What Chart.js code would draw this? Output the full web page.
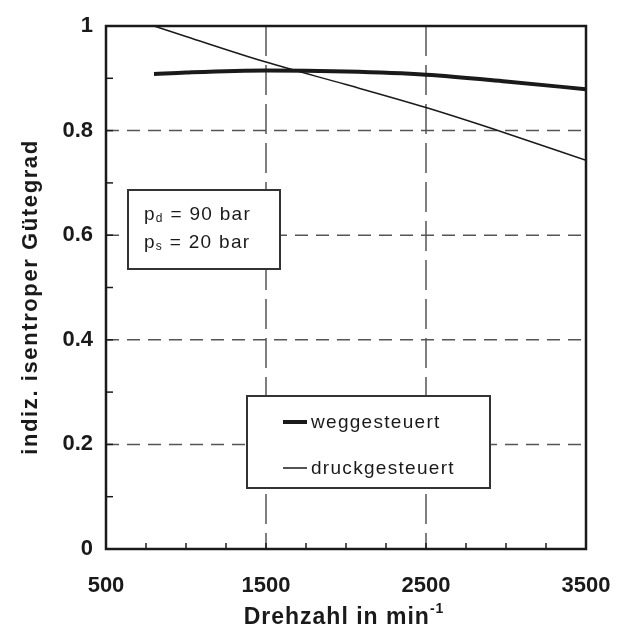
<!DOCTYPE html>
<html>
<head>
<meta charset="utf-8">
<script src="https://cdn.jsdelivr.net/npm/chart.js@4.4.0/dist/chart.umd.min.js"></script>
<style>
  html, body { margin: 0; padding: 0; background: #fff; }
  #wrap { width: 625px; height: 633px; }
</style>
</head>
<body>
<div id="wrap"><canvas id="chart"></canvas></div>
<script>
/* ---- data ---- */
const drehzahl = [800, 1000, 1500, 2000, 2500, 3000, 3500];
const weggesteuert = [0.908, 0.911, 0.915, 0.913, 0.907, 0.894, 0.879];
const druckgesteuert = [1.0, 0.98, 0.931, 0.888, 0.844, 0.795, 0.743];
const seriesNames = ["weggesteuert", "druckgesteuert"];
const xGridValues = [1500, 2500];
const yGridValues = [0.2, 0.4, 0.6, 0.8];

const FONT = "'Liberation Sans', Arial, sans-serif";
const INK = "#1a1a1a";

const toPoints = (ys) => drehzahl.map((x, i) => ({ x: x, y: ys[i] }));

/* ---- text helper with sub/superscript pieces ---- */
function drawPieces(ctx, pieces, x, y) {
  let cx = x;
  for (const p of pieces) {
    ctx.font = p.font;
    ctx.fillText(p.t, cx, y + (p.dy || 0));
    cx += ctx.measureText(p.t).width;
  }
  return cx;
}
function piecesWidth(ctx, pieces) {
  let w = 0;
  for (const p of pieces) { ctx.font = p.font; w += ctx.measureText(p.t).width; }
  return w;
}

/* ---- grid, ticks, frame, boxes, titles ---- */
const decor = {
  id: "decor",
  beforeDatasetsDraw(chart) {
    const { ctx, chartArea: a, scales: { x, y } } = chart;
    ctx.save();
    ctx.strokeStyle = "#555";
    ctx.lineWidth = 1.5;
    ctx.setLineDash([13, 8]);
    for (const v of yGridValues) {
      const py = y.getPixelForValue(v);
      ctx.beginPath(); ctx.moveTo(a.left, py); ctx.lineTo(a.right, py); ctx.stroke();
    }
    ctx.setLineDash([30, 9]);
    for (const v of xGridValues) {
      const px = x.getPixelForValue(v);
      ctx.beginPath(); ctx.moveTo(px, a.top); ctx.lineTo(px, a.bottom); ctx.stroke();
    }
    ctx.setLineDash([]);
    // minor inner ticks
    ctx.strokeStyle = INK;
    ctx.lineWidth = 1.5;
    for (let v = 750; v < 3500; v += 250) {
      const px = x.getPixelForValue(v);
      ctx.beginPath(); ctx.moveTo(px, a.bottom); ctx.lineTo(px, a.bottom - 6); ctx.stroke();
    }
    for (let k = 1; k < 10; k++) {
      const py = y.getPixelForValue(k / 10);
      ctx.beginPath(); ctx.moveTo(a.left, py); ctx.lineTo(a.left + 7, py); ctx.stroke();
    }
    ctx.restore();
  },
  afterDatasetsDraw(chart) {
    const { ctx, chartArea: a } = chart;
    ctx.save();
    // plot frame
    ctx.strokeStyle = INK;
    ctx.lineWidth = 2.5;
    ctx.strokeRect(a.left, a.top, a.right - a.left, a.bottom - a.top);

    ctx.letterSpacing = "1.3px";
    ctx.fillStyle = INK;
    ctx.textBaseline = "middle";

    // pressure box
    const bx = a.left + 22, by = 190, bw = 152, bh = 79;
    ctx.fillStyle = "#fff";
    ctx.fillRect(bx, by, bw, bh);
    ctx.strokeStyle = "#333";
    ctx.lineWidth = 2;
    ctx.strokeRect(bx, by, bw, bh);
    ctx.fillStyle = INK;
    const f = "19px " + FONT, fs = "12px " + FONT;
    drawPieces(ctx, [{ t: "p", font: f }, { t: "d", font: fs, dy: 4 }, { t: " = 90 bar", font: f }], bx + 16, by + 25);
    drawPieces(ctx, [{ t: "p", font: f }, { t: "s", font: fs, dy: 4 }, { t: " = 20 bar", font: f }], bx + 16, by + 53);

    // legend box
    const lx = 247, ly = 396, lw = 243, lh = 92;
    ctx.fillStyle = "#fff";
    ctx.fillRect(lx, ly, lw, lh);
    ctx.strokeStyle = "#333";
    ctx.lineWidth = 2;
    ctx.strokeRect(lx, ly, lw, lh);
    const rows = [{ y: ly + 26, w: 4 }, { y: ly + 72, w: 1.5 }];
    rows.forEach((r, i) => {
      ctx.strokeStyle = INK;
      ctx.lineWidth = r.w;
      ctx.beginPath(); ctx.moveTo(lx + 36, r.y); ctx.lineTo(lx + 60, r.y); ctx.stroke();
      ctx.fillStyle = INK;
      ctx.font = "19px " + FONT;
      ctx.fillText(seriesNames[i], lx + 64, r.y + 1);
    });

    // y title
    ctx.save();
    ctx.translate(31, 297);
    ctx.rotate(-Math.PI / 2);
    ctx.letterSpacing = "1.6px";
    ctx.font = "bold 22px " + FONT;
    ctx.textAlign = "center";
    ctx.fillText("indiz. isentroper Gütegrad", 0, 0);
    ctx.restore();

    // x title
    ctx.letterSpacing = "1px";
    const xt = [
      { t: "Drehzahl in min", font: "bold 23px " + FONT },
      { t: "-1", font: "bold 14px " + FONT, dy: -9 }
    ];
    const tw = piecesWidth(ctx, xt);
    drawPieces(ctx, xt, 344 - tw / 2, 618);
    ctx.restore();
  }
};

new Chart(document.getElementById("chart"), {
  type: "line",
  data: {
    datasets: [
      {
        label: seriesNames[0],
        data: toPoints(weggesteuert),
        borderColor: INK,
        borderWidth: 4,
        pointRadius: 0,
        cubicInterpolationMode: "monotone"
      },
      {
        label: seriesNames[1],
        data: toPoints(druckgesteuert),
        borderColor: INK,
        borderWidth: 1.5,
        pointRadius: 0,
        cubicInterpolationMode: "monotone"
      }
    ]
  },
  plugins: [decor],
  options: {
    responsive: true,
    maintainAspectRatio: false,
    animation: false,
    layout: { padding: { top: 26, right: 39, left: 0, bottom: 0 } },
    plugins: {
      legend: { display: false },
      tooltip: { enabled: false }
    },
    scales: {
      x: {
        type: "linear",
        min: 500,
        max: 3500,
        grid: { display: false, drawTicks: false },
        border: { display: false },
        afterFit: (s) => { s.height = 84; s.paddingLeft = 0; s.paddingRight = 0; },
        ticks: {
          stepSize: 250,
          autoSkip: false,
          maxRotation: 0,
          padding: 24,
          color: INK,
          font: { family: FONT, size: 22, weight: "bold" },
          callback: (v) => ((v - 500) % 1000 === 0 ? String(v) : "")
        }
      },
      y: {
        min: 0,
        max: 1,
        grid: { display: false, drawTicks: false },
        border: { display: false },
        afterFit: (s) => { s.width = 106; s.paddingTop = 0; s.paddingBottom = 0; },
        ticks: {
          stepSize: 0.1,
          autoSkip: false,
          padding: 13,
          color: INK,
          font: { family: FONT, size: 22, weight: "bold" },
          callback: (v) => {
            const k = Math.round(v * 10);
            return k % 2 === 0 ? String(k / 10) : "";
          }
        }
      }
    }
  }
});
</script>
</body>
</html>
